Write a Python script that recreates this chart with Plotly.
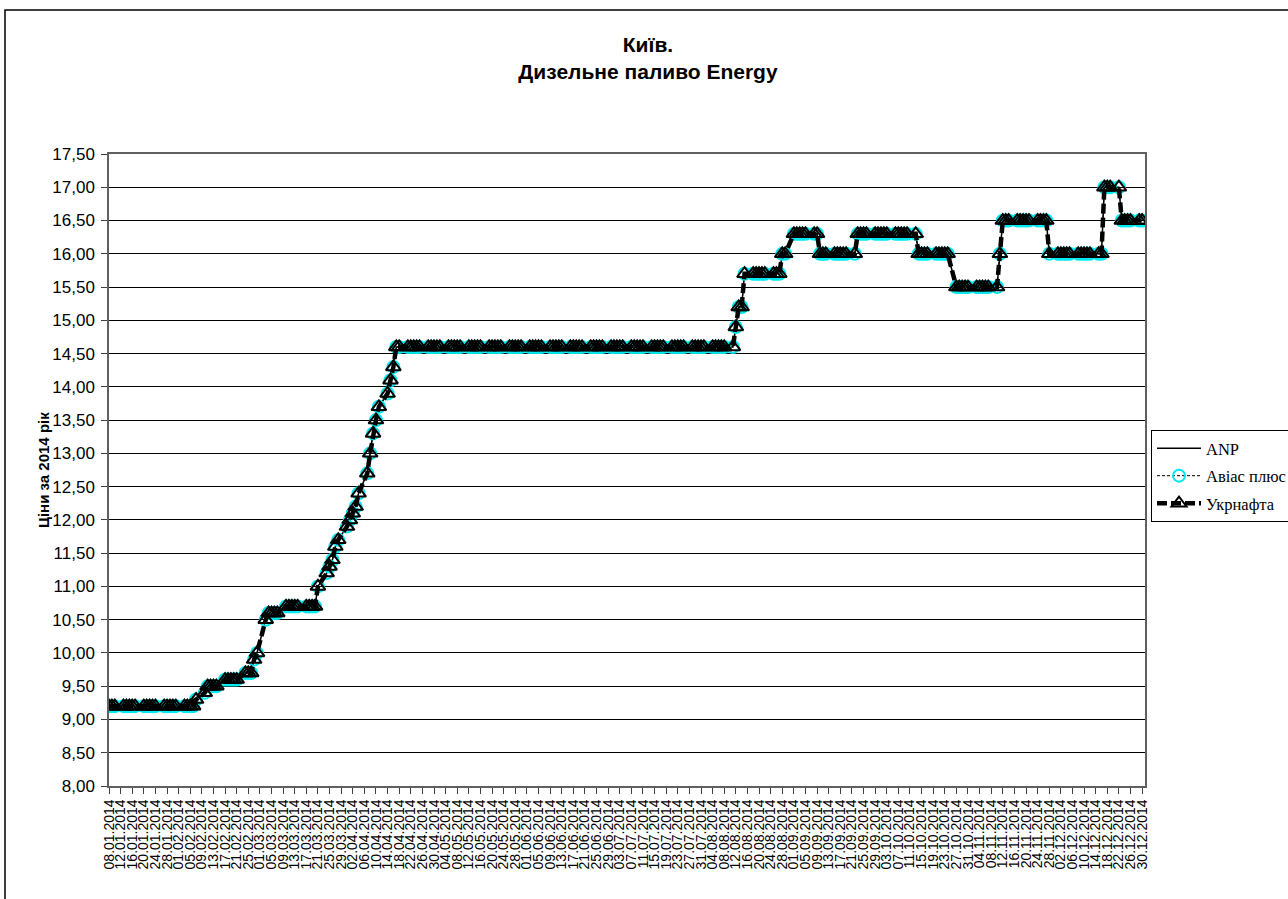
import pandas as pd
import plotly.graph_objects as go

# Trading days (weekdays) 08.01.2014 .. 30.12.2014
dates = pd.bdate_range("2014-01-08", "2014-12-30")

# Prices, one row per week (Mon..Fri)
anp_prices = [
    9.20, 9.20, 9.20,                      # 08.01-10.01
    9.20, 9.20, 9.20, 9.20, 9.20,          # 13.01
    9.20, 9.20, 9.20, 9.20, 9.20,          # 20.01
    9.20, 9.20, 9.20, 9.20, 9.20,          # 27.01
    9.20, 9.20, 9.20, 9.20, 9.30,          # 03.02
    9.40, 9.50, 9.50, 9.50, 9.50,          # 10.02
    9.60, 9.60, 9.60, 9.60, 9.60,          # 17.02
    9.70, 9.70, 9.70, 9.90, 10.00,         # 24.02
    10.50, 10.60, 10.60, 10.60, 10.60,     # 03.03
    10.70, 10.70, 10.70, 10.70, 10.70,     # 10.03
    10.70, 10.70, 10.70, 10.70, 11.00,     # 17.03
    11.20, 11.30, 11.40, 11.60, 11.70,     # 24.03
    11.90, 12.00, 12.10, 12.20, 12.40,     # 31.03
    12.70, 13.00, 13.30, 13.50, 13.70,     # 07.04
    13.90, 14.10, 14.30, 14.60, 14.60,     # 14.04
    14.60, 14.60, 14.60, 14.60, 14.60,     # 21.04
    14.60, 14.60, 14.60, 14.60, 14.60,     # 28.04
    14.60, 14.60, 14.60, 14.60, 14.60,     # 05.05
    14.60, 14.60, 14.60, 14.60, 14.60,     # 12.05
    14.60, 14.60, 14.60, 14.60, 14.60,     # 19.05
    14.60, 14.60, 14.60, 14.60, 14.60,     # 26.05
    14.60, 14.60, 14.60, 14.60, 14.60,     # 02.06
    14.60, 14.60, 14.60, 14.60, 14.60,     # 09.06
    14.60, 14.60, 14.60, 14.60, 14.60,     # 16.06
    14.60, 14.60, 14.60, 14.60, 14.60,     # 23.06
    14.60, 14.60, 14.60, 14.60, 14.60,     # 30.06
    14.60, 14.60, 14.60, 14.60, 14.60,     # 07.07
    14.60, 14.60, 14.60, 14.60, 14.60,     # 14.07
    14.60, 14.60, 14.60, 14.60, 14.60,     # 21.07
    14.60, 14.60, 14.60, 14.60, 14.60,     # 28.07
    14.60, 14.60, 14.60, 14.60, 14.60,     # 04.08
    14.60, 14.90, 15.20, 15.20, 15.70,     # 11.08
    15.70, 15.70, 15.70, 15.70, 15.70,     # 18.08
    15.70, 15.70, 15.70, 16.00, 16.00,     # 25.08
    16.30, 16.30, 16.30, 16.30, 16.30,     # 01.09
    16.30, 16.30, 16.00, 16.00, 16.00,     # 08.09
    16.00, 16.00, 16.00, 16.00, 16.00,     # 15.09
    16.00, 16.30, 16.30, 16.30, 16.30,     # 22.09
    16.30, 16.30, 16.30, 16.30, 16.30,     # 29.09
    16.30, 16.30, 16.30, 16.30, 16.30,     # 06.10
    16.30, 16.00, 16.00, 16.00, 16.00,     # 13.10
    16.00, 16.00, 16.00, 16.00, 16.00,     # 20.10
    15.50, 15.50, 15.50, 15.50, 15.50,     # 27.10
    15.50, 15.50, 15.50, 15.50, 15.50,     # 03.11
    15.50, 16.00, 16.50, 16.50, 16.50,     # 10.11
    16.50, 16.50, 16.50, 16.50, 16.50,     # 17.11
    16.50, 16.50, 16.50, 16.50, 16.00,     # 24.11
    16.00, 16.00, 16.00, 16.00, 16.00,     # 01.12
    16.00, 16.00, 16.00, 16.00, 16.00,     # 08.12
    16.00, 16.00, 17.00, 17.00, 17.00,     # 15.12
    17.00, 16.50, 16.50, 16.50, 16.50,     # 22.12
    16.50, 16.50,                          # 29.12-30.12
]
# The three sellers' prices coincide on the chart
avias_prices = list(anp_prices)
ukrnafta_prices = list(anp_prices)

series_names = ["ANP", "Авіас плюс", "Укрнафта"]
title_text = "Київ.<br>Дизельне паливо Energy"
y_title = "Ціни за 2014 рік"

assert len(dates) == len(anp_prices)

W, H = 1288, 899
L, R, T, B = 109, 1145, 154, 786

fig = go.Figure()
fig.add_trace(go.Scatter(
    x=dates, y=anp_prices, name=series_names[0], mode="lines",
    legendgroup="a",
    line=dict(color="black", width=1.5)))
fig.add_trace(go.Scatter(
    x=dates, y=avias_prices, name=series_names[1], mode="lines+markers",
    legendgroup="b",
    line=dict(color="black", width=1, dash="3px,2px"),
    marker=dict(symbol="circle-open", size=12, color="#00E8F0",
                line=dict(width=2, color="#00E8F0"))))
fig.add_trace(go.Scatter(
    x=dates, y=ukrnafta_prices, name=series_names[2], mode="lines+markers",
    legendgroup="c",
    line=dict(color="black", width=4.5, dash="10px,4px"),
    marker=dict(symbol="triangle-up-open", size=13, color="black",
                line=dict(width=2, color="black"))))

px_x = lambda p: (p - L) / (R - L)
px_y = lambda p: (B - p) / (B - T)

fig.update_layout(
    width=W, height=H,
    margin=dict(l=L, r=W - R, t=T, b=H - B, pad=0, autoexpand=False),
    paper_bgcolor="white", plot_bgcolor="white",
    separators=", ",
    font=dict(family="Liberation Sans, Arial", color="black"),
    title=dict(text=title_text, x=648 / W, xanchor="center",
               y=1 - 52 / H, yanchor="top",
               font=dict(family="Liberation Sans, Arial", size=21, color="black",
                         weight="bold")),
    showlegend=True,
    legend=dict(x=px_x(1151), xanchor="left", y=px_y(430), yanchor="top",
                bordercolor="black", borderwidth=1, bgcolor="white",
                font=dict(family="Liberation Serif, Times New Roman", size=16.5,
                          color="black"),
                itemwidth=44,
                tracegroupgap=3),
    xaxis=dict(
        type="date",
        range=["2014-01-08", "2014-12-31"],
        tick0="2014-01-08", dtick=4 * 86400000,
        tickformat="%d.%m.%Y", tickangle=-90,
        tickfont=dict(size=14, family="Liberation Sans, Arial"),
        ticks="outside", ticklen=6, tickcolor="#404040",
        showgrid=False, showline=True, linecolor="#606060", linewidth=1.5,
        mirror=True, zeroline=False,
    ),
    yaxis=dict(
        range=[8, 17.5], dtick=0.5, tick0=8,
        tickformat=".2f",
        tickfont=dict(size=17, family="Liberation Sans, Arial"),
        ticks="outside", ticklen=6, tickcolor="#404040",
        ticklabelstandoff=3,
        showgrid=True, gridcolor="black", gridwidth=1,
        showline=True, linecolor="#606060", linewidth=1.5,
        mirror=True, zeroline=False,
    ),
    annotations=[dict(
        text=y_title, textangle=-90, xref="paper", yref="paper",
        x=px_x(43), y=0.5, xanchor="center", yanchor="middle",
        showarrow=False,
        font=dict(family="Liberation Sans, Arial", size=15, color="black",
                  weight="bold"))],
    shapes=[dict(type="rect", xref="paper", yref="paper",
                 x0=px_x(5), x1=px_x(1300), y0=px_y(910), y1=px_y(10),
                 line=dict(color="black", width=1.5), layer="below")],
)

fig.write_html("out.html",
               config={"displayModeBar": False},
               post_script="document.body.style.margin='0px';"
                           "document.body.style.overflow='hidden';")
